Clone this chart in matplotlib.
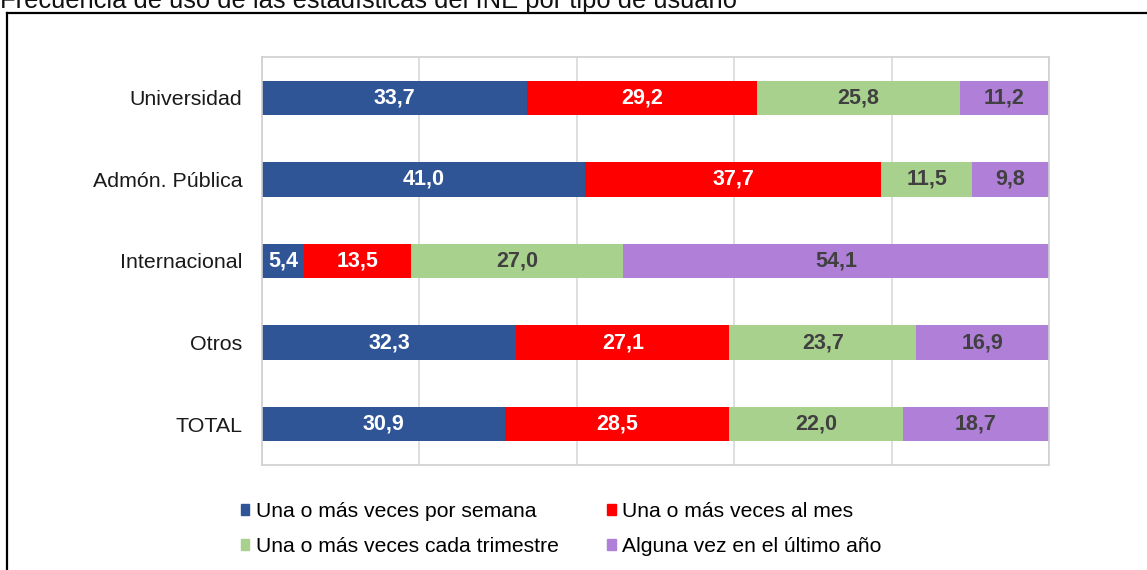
import matplotlib.pyplot as plt
from matplotlib.patches import Patch
from matplotlib.lines import Line2D

plt.rcParams['font.family'] = ['Liberation Sans', 'DejaVu Sans']

# data (percent of users)
categories = ["Universidad", "Admón. Pública", "Internacional", "Otros", "TOTAL"]
series_names = ["Una o más veces por semana", "Una o más veces al mes",
                "Una o más veces cada trimestre", "Alguna vez en el último año"]
semana = [33.7, 41.0, 5.4, 32.3, 30.9]
mes = [29.2, 37.7, 13.5, 27.1, 28.5]
trimestre = [25.8, 11.5, 27.0, 23.7, 22.0]
anio = [11.2, 9.8, 54.1, 16.9, 18.7]
title = "Frecuencia de uso de las estadísticas del INE por tipo de usuario"

colors = ["#2F5597", "#FF0000", "#A9D18E", "#B07FD8"]
label_colors = ["white", "white", "#404040", "#404040"]

fig = plt.figure(figsize=(11.47, 5.70), dpi=100)
W, H = 1147, 570

# outer frame (cut by the image border, like the original screenshot)
fig.add_artist(Line2D([7 / W, 1], [1 - 13 / H, 1 - 13 / H], color="black", lw=1.6))
fig.add_artist(Line2D([7 / W, 7 / W], [0, 1 - 13 / H], color="black", lw=1.6))
fig.text(0, 1 - 8 / H, title, fontsize=18.4, va="baseline", ha="left", color="#111111")

ax = fig.add_axes([262 / W, 1 - 465 / H, (1049 - 262) / W, (465 - 57) / H])
y = list(range(len(categories)))
left = [0] * len(categories)
for vals, col, lc in zip([semana, mes, trimestre, anio], colors, label_colors):
    bars = ax.barh(y, vals, left=left, height=0.42, color=col, zorder=2)
    ax.bar_label(bars, labels=[f"{v:.1f}".replace(".", ",") for v in vals],
                 label_type="center", color=lc, fontsize=15.5, fontweight="bold")
    left = [a + b for a, b in zip(left, vals)]

ax.set_xlim(0, 100)
ax.set_ylim(4.5, -0.5)
ax.set_xticks([0, 20, 40, 60, 80, 100])
ax.set_xticklabels([])
ax.tick_params(axis="x", length=0)
ax.set_yticks(y)
ax.set_yticklabels(categories, fontsize=15.4, color="#1a1a1a")
ax.tick_params(axis="y", length=0, pad=14)
ax.grid(axis="x", color="#D9D9D9", lw=1.2, zorder=0)
for s in ax.spines.values():
    s.set_color("#D0D0D0")
    s.set_linewidth(1.2)

handles = [Patch(color=c) for c in colors]
order = [0, 2, 1, 3]
fig.legend([handles[i] for i in order], [series_names[i] for i in order],
           loc="upper left", bbox_to_anchor=(241 / W, 1 - 502 / H), ncol=2,
           frameon=False, fontsize=15.2, handlelength=0.4, handleheight=0.4,
           handletextpad=0.3, columnspacing=2.3, labelspacing=0.75,
           borderaxespad=0, borderpad=0)

fig.savefig("out.png", dpi=100)
